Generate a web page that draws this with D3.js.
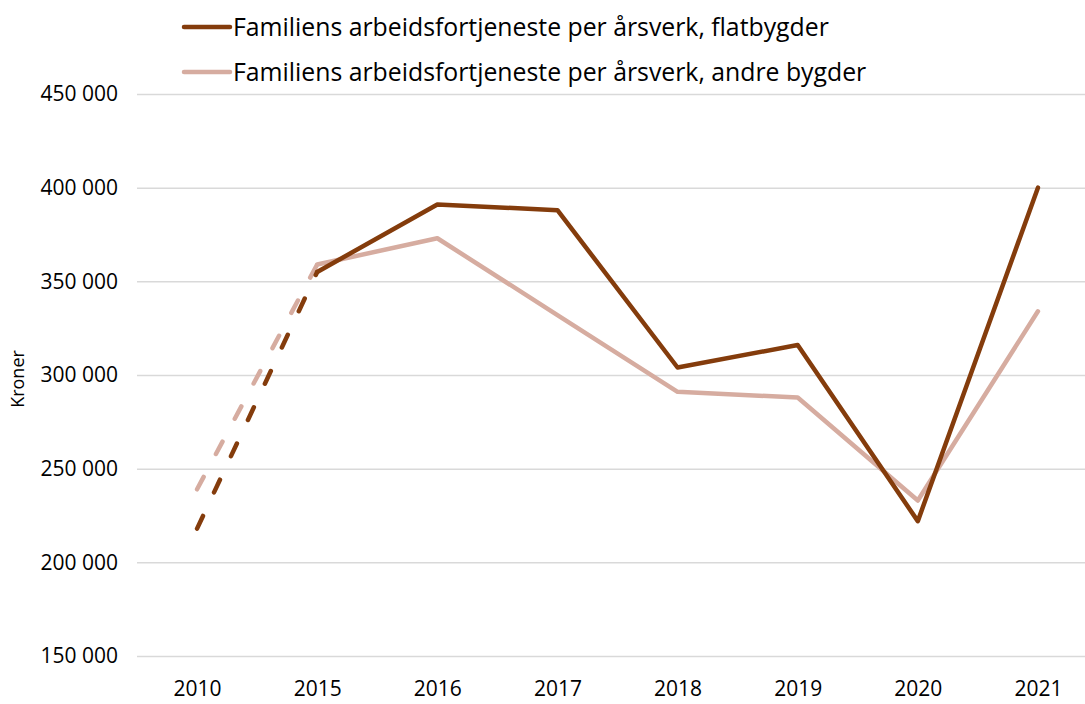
<!DOCTYPE html>
<html lang="no">
    <head>
        <meta charset="utf-8">
        <title>Arbeidsfortjeneste</title>
        <script src="https://cdn.jsdelivr.net/npm/d3@7"></script>
        <style>
            body { margin: 0; background: #fff; }
            text { font-family: "Open Sans", "Noto Sans", sans-serif; fill: #000; }
        </style>
    </head>
    <body>
        <script>

            var years = ["2010", "2015", "2016", "2017", "2018", "2019", "2020", "2021"];
            var flatbygder = [218000, 355000, 391000, 388000, 304000, 316000, 222000, 400000];
            var andreBygder = [239000, 359000, 373000, 332000, 291000, 288000, 233000, 334000];
            var yTicks = [150000, 200000, 250000, 300000, 350000, 400000, 450000];
            var seriesNames = ["Familiens arbeidsfortjeneste per årsverk, flatbygder",
                               "Familiens arbeidsfortjeneste per årsverk, andre bygder"];
            var colors = ["#843c0c", "#d6aca0"];

            var width = 1085, height = 704;
            var plotLeft = 137, plotRight = 1098, plotTop = 94, plotBottom = 656;

            var svg = d3.select("body").append("svg")
                .attr("width", width)
                .attr("height", height);

            var x = d3.scalePoint().domain(years).range([plotLeft, plotRight]).padding(0.5);
            var y = d3.scaleLinear().domain([150000, 450000]).range([plotBottom, plotTop]);

            var fmt = function(v) { return d3.format(",")(v).replace(/,/g, " "); };

            // gridlines + y labels
            svg.append("g")
                .attr("transform", "translate(" + plotLeft + ",0)")
                .call(d3.axisLeft(y).tickValues(yTicks).tickSize(-(plotRight - plotLeft)).tickFormat(fmt).tickPadding(19))
                .call(function(g) {
                    g.select(".domain").remove();
                    g.selectAll(".tick line").attr("stroke", "#d9d9d9").attr("stroke-width", 1.5);
                    g.selectAll(".tick text").style("font-size", "21px").attr("fill", "#000");
                });

            svg.append("g")
                .attr("transform", "translate(0," + (plotBottom + 10) + ")")
                .call(d3.axisBottom(x).tickSize(0).tickPadding(15))
                .call(function(g) {
                    g.select(".domain").remove();
                    g.selectAll(".tick text").style("font-size", "21px").attr("fill", "#000");
                });

            svg.append("text")
                .attr("transform", "translate(24," + ((plotTop + plotBottom) / 2 + 4) + ")rotate(-90)")
                .attr("text-anchor", "middle")
                .style("font-size", "18px")
                .text("Kroner");

            var line = d3.line()
                .x(function(d) { return x(d.year); })
                .y(function(d) { return y(d.value); });

            // draw andre bygder first so flatbygder sits on top
            [andreBygder, flatbygder].forEach(function(vals, k) {
                var idx = 1 - k;
                var pts = years.map(function(yr, i) { return {year: yr, value: vals[i]}; });
                svg.append("path")
                    .datum(pts.slice(0, 2))
                    .attr("d", line)
                    .attr("fill", "none")
                    .attr("stroke", colors[idx])
                    .attr("stroke-width", 4.5)
                    .attr("stroke-linecap", "round")
                    .attr("stroke-dasharray", "14,26");
                svg.append("path")
                    .datum(pts.slice(1))
                    .attr("d", line)
                    .attr("fill", "none")
                    .attr("stroke", colors[idx])
                    .attr("stroke-width", 4.5)
                    .attr("stroke-linejoin", "round")
                    .attr("stroke-linecap", "round");
            });

            // legend
            var legend = svg.append("g");
            seriesNames.forEach(function(name, i) {
                var ly = 27 + i * 45;
                legend.append("line")
                    .attr("x1", 184).attr("x2", 230)
                    .attr("y1", ly).attr("y2", ly)
                    .attr("stroke", colors[i])
                    .attr("stroke-width", 4.5)
                    .attr("stroke-linecap", "round");
                legend.append("text")
                    .attr("x", 233).attr("y", ly + 9)
                    .style("font-size", "24.8px")
                    .text(name);
            });

         </script>
    </body>
</html>
